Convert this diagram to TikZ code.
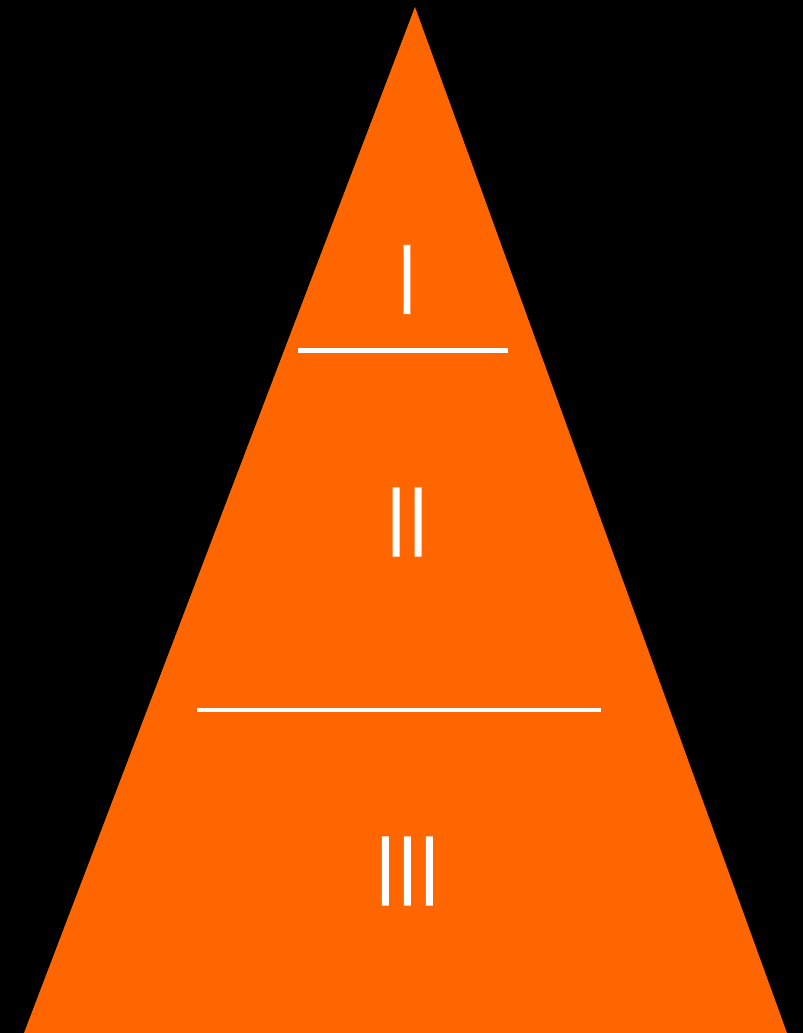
\documentclass[tikz,border=0pt]{standalone}
\usepackage{fontspec}
\newfontfamily\numfont{Lato Light}[FakeBold=2.2]
\definecolor{cone}{HTML}{FF6600}
\tikzset{numeral/.style={text=white,inner sep=0pt,font=\numfont\fontsize{54}{62}\selectfont}}
\begin{document}
\begin{tikzpicture}[x=0.02cm,y=-0.02cm]
\fill[black] (0,0) rectangle (803,1033);
\useasboundingbox (0,0) rectangle (803,1033);

\coordinate (apex) at (415,7);
\coordinate (bl) at (24,1033);
\coordinate (br) at (787,1033);
\fill[cone] (apex) -- (bl) -- (br) -- cycle;

\draw[white,line width=2.83pt] (298,350.5) -- (508,350.5);
\draw[white,line width=2.83pt] (197,710) -- (601,710);

\node[numeral] (one) at (407,279.5) {I};
\node[numeral] (two) at (407,522) {I\kern-1.6pt I};
\node[numeral] (three) at (407.3,871) {I\kern-1.6pt I\kern-1.6pt I};
\end{tikzpicture}
\end{document}
